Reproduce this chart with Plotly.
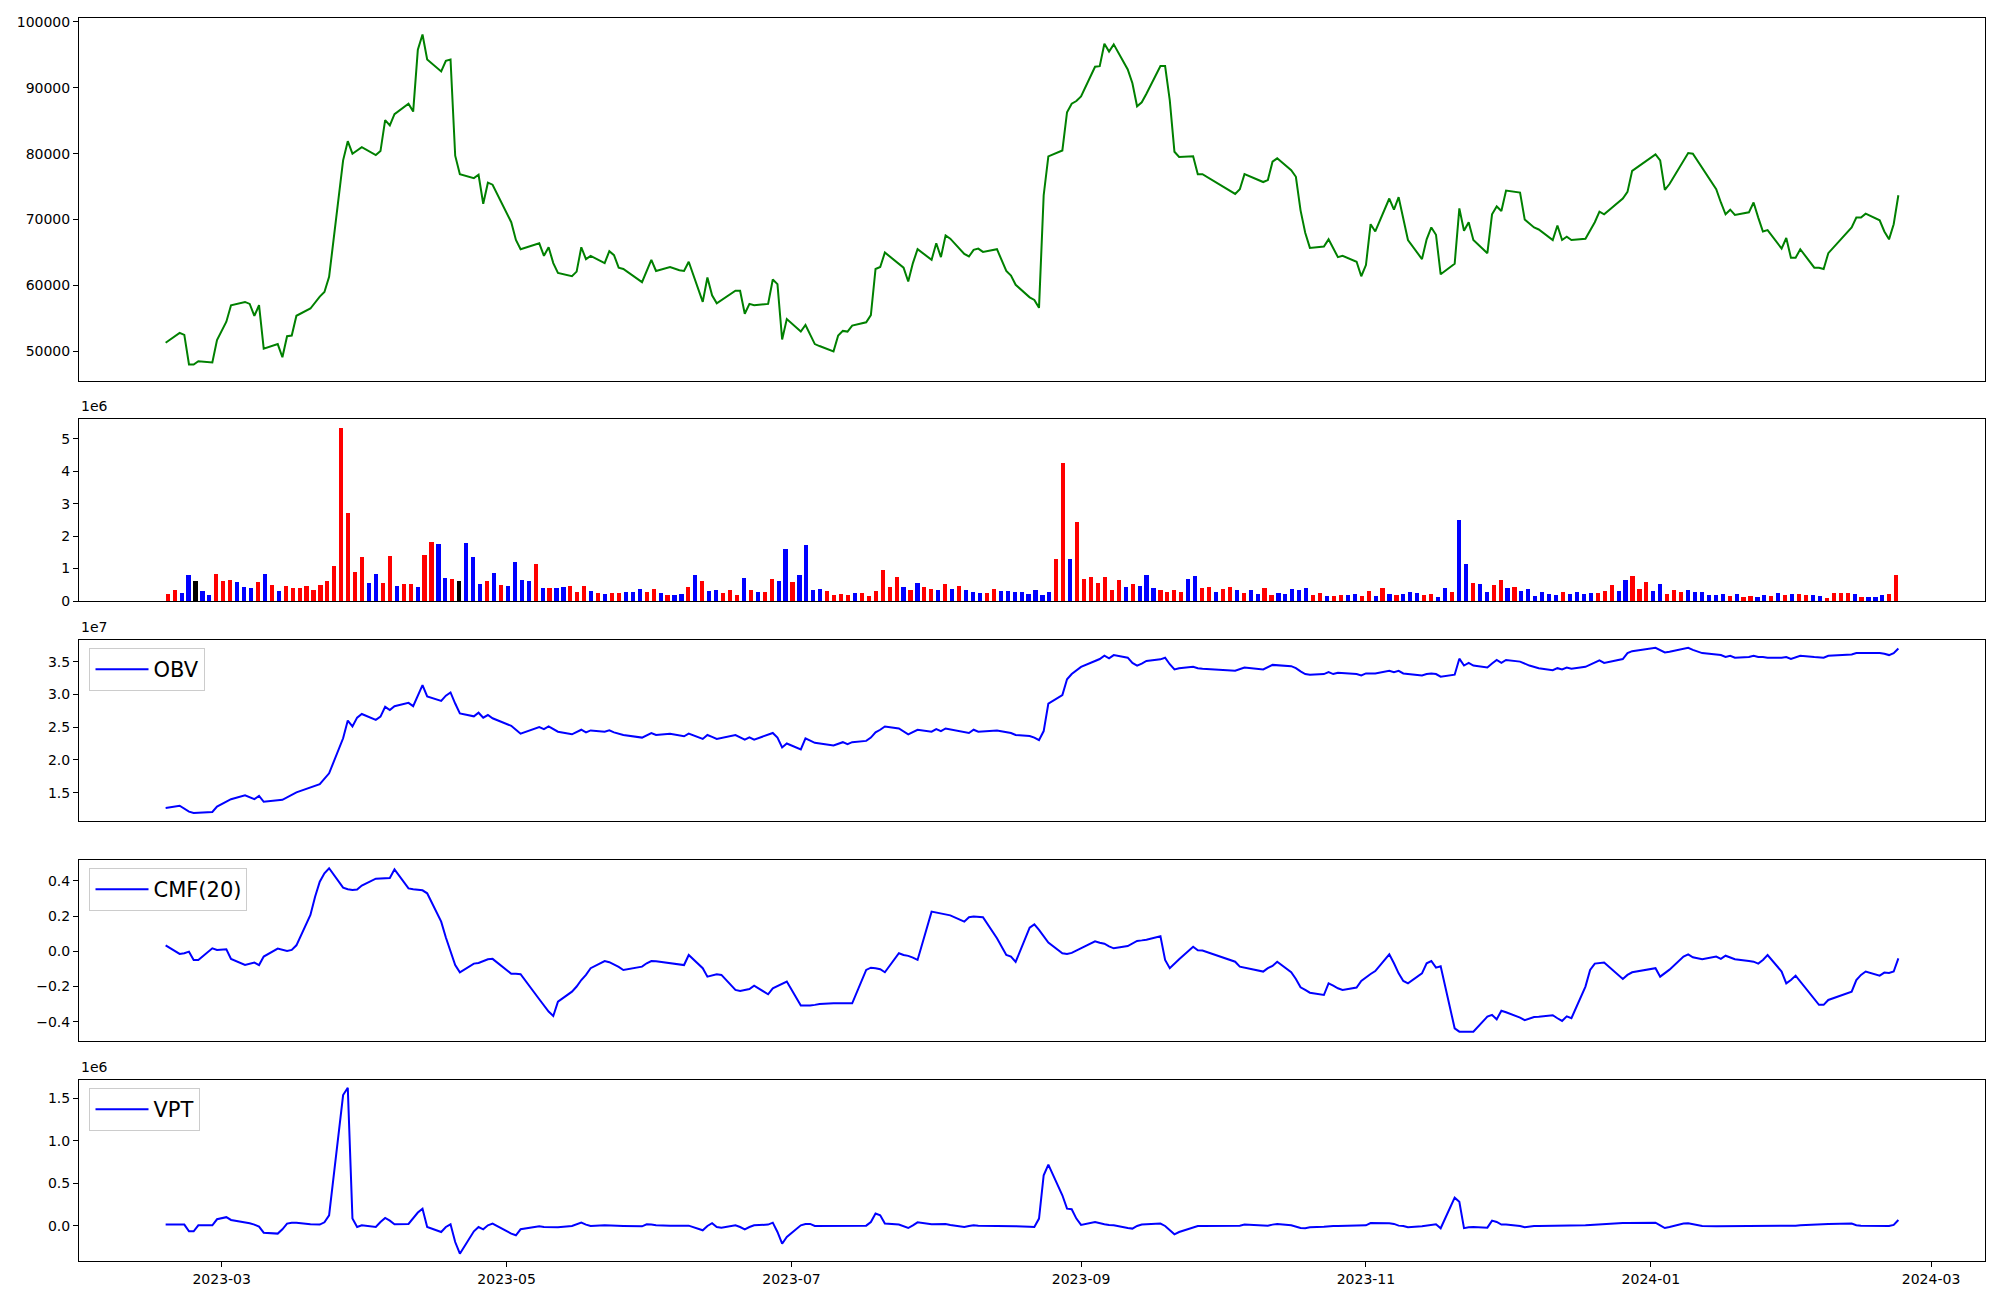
import pandas as pd
import plotly.graph_objects as go

# ---------------- data ----------------
krx_holidays = ["2023-03-01", "2023-05-01", "2023-05-05", "2023-05-29", "2023-06-06",
                "2023-08-15", "2023-09-28", "2023-09-29", "2023-10-02", "2023-10-03",
                "2023-10-09", "2023-12-25", "2023-12-29", "2024-01-01", "2024-02-09",
                "2024-02-12"]
dates = [d for d in pd.bdate_range("2023-02-17", "2024-02-23")
         if d.strftime("%Y-%m-%d") not in krx_holidays]

close_price = [
    51300, 52800, 52500, 48000, 48000, 48500, 48300, 51700, 54500, 57000,
    57500, 57200, 55400, 57000, 50400, 51100, 49100, 52300, 52400, 55400,
    56500, 57400, 58300, 59000, 61300, 79000, 81900, 80000, 80500, 81000,
    79800, 80400, 85100, 84300, 86000, 87600, 86400, 95800, 98100, 94300,
    92500, 94100, 94300, 79700, 76900, 76300, 76800, 72400, 75600, 75300,
    69600, 66900, 65500, 66400, 64500, 65800, 63400, 61900, 61400, 62100,
    65800, 64000, 64500, 63400, 65200, 64600, 62700, 62500, 60500, 62100,
    63900, 62200, 62800, 62300, 62200, 63600, 57500, 61200, 58500, 57300,
    57800, 59200, 59200, 55700, 57200, 57000, 57200, 60900, 60200, 51800,
    54900, 53000, 54000, 52500, 51100, 50800, 50000, 52400, 53100, 53000,
    53900, 54400, 55500, 62500, 62800, 65000, 63300, 62700, 60600, 63400,
    65500, 63900, 66400, 64300, 67600, 67100, 64800, 64400, 65400, 65600,
    65100, 65500, 62200, 61500, 60100, 58200, 57800, 56600, 73700, 79600,
    80500, 86300, 87600, 88000, 88700, 93200, 93300, 96700, 95500, 96600,
    92800, 90700, 87200, 87800, 89100, 93300, 93300, 88100, 80300, 79500,
    79600, 76900, 76900, 73900, 74600, 76900, 75700, 76000, 78800, 79300,
    77500, 76500, 71400, 68000, 65700, 65900, 67000, 65600, 64300, 64500,
    63600, 61400, 63100, 69300, 68200, 73200, 71500, 73400, 70200, 66900,
    64000, 67000, 68800, 67700, 61700, 63300, 71700, 68300, 69600, 66900,
    64900, 70800, 72000, 71300, 74400, 74100, 70000, 69400, 68800, 68500,
    66900, 69100, 66900, 67400, 66900, 67100, 68400, 69600, 71200, 70800,
    73200, 74200, 77400, 79900, 79000, 74500, 75400, 78900, 80100, 80000,
    78900, 77800, 74600, 72600, 70800, 71500, 70700, 71100, 72600, 70300,
    68200, 68400, 65600, 67200, 64200, 64200, 65500, 62700, 62700, 62500,
    64900, 68800, 70300, 70300, 70900, 69900, 68200, 67000, 69300, 73700,
]

# volume in millions of shares
volume_m = [
    0.22, 0.34, 0.25, 0.80, 0.62, 0.31, 0.19, 0.83, 0.62, 0.65,
    0.59, 0.43, 0.40, 0.59, 0.83, 0.49, 0.31, 0.46, 0.40, 0.40,
    0.46, 0.34, 0.49, 0.62, 1.08, 5.34, 2.72, 0.90, 1.36, 0.56,
    0.83, 0.56, 1.39, 0.46, 0.52, 0.52, 0.43, 1.42, 1.82, 1.76,
    0.71, 0.68, 0.62, 1.79, 1.36, 0.52, 0.62, 0.86, 0.49, 0.46,
    1.20, 0.65, 0.62, 1.14, 0.40, 0.40, 0.40, 0.43, 0.46, 0.28,
    0.46, 0.31, 0.25,
    0.22, 0.25, 0.25, 0.28, 0.28, 0.37, 0.28, 0.37, 0.25, 0.19,
    0.19, 0.22, 0.43, 0.80, 0.62, 0.31, 0.34, 0.25, 0.34, 0.19,
    0.71, 0.34, 0.28, 0.28, 0.68, 0.62, 1.60, 0.59, 0.80, 1.73,
    0.34, 0.37, 0.31, 0.19, 0.22, 0.19, 0.25, 0.25, 0.15, 0.31,
    0.96, 0.43, 0.74, 0.43, 0.34, 0.56, 0.43, 0.37, 0.34, 0.52,
    0.37, 0.46, 0.34, 0.28, 0.25, 0.25, 0.37, 0.31, 0.31, 0.28,
    0.28, 0.22, 0.34,
    0.19, 0.28, 1.30, 4.26, 1.30, 2.44, 0.68, 0.74, 0.56, 0.74,
    0.34, 0.65, 0.43, 0.52, 0.46, 0.80, 0.40, 0.34, 0.28, 0.34,
    0.28, 0.68, 0.77, 0.40, 0.43, 0.28, 0.37, 0.43, 0.34, 0.25,
    0.34, 0.22, 0.40, 0.19, 0.25, 0.22, 0.37, 0.34, 0.40, 0.19,
    0.25, 0.15, 0.15, 0.19, 0.19, 0.22, 0.15, 0.31, 0.15, 0.40,
    0.22, 0.19, 0.22, 0.28, 0.25, 0.19, 0.22, 0.12, 0.40, 0.28,
    2.50, 1.14,
    0.56, 0.52, 0.28, 0.49, 0.65, 0.40, 0.43, 0.31, 0.37, 0.15,
    0.28, 0.22, 0.19, 0.28, 0.22, 0.28, 0.22, 0.25, 0.25, 0.31,
    0.49, 0.31, 0.65, 0.77, 0.37, 0.59, 0.31, 0.52, 0.22, 0.34,
    0.28, 0.34, 0.28, 0.28, 0.19, 0.19, 0.22, 0.15, 0.22, 0.12,
    0.15, 0.12, 0.19, 0.15, 0.25, 0.19, 0.22, 0.22, 0.19, 0.19,
    0.15, 0.09, 0.25, 0.25, 0.25, 0.22, 0.12, 0.12, 0.12, 0.19,
    0.22, 0.80,
]

# candle direction per day: r = up, b = down, k = unchanged
candle_dir = ("rrbbkbbrrr" "bbbrbrbrrr" "rrrrrrrrrb" "brrbrrbrrb" "brkbbbrbrb" "bbbrbrbbrr" "rbr"
              "brrbbbrrbr" "bbrbrbbrrr" "brbrrbbrbb" "bbrrrrbrrr" "rrrbrbrrbr" "brbbbrrbbb" "bbb"
              "bbrrbrrrrr" "rrbrbbbrrr" "rbbrrbrrbr" "bbrrbbbbbr" "rbrrbbrrbr" "brbbbrrbbr" "bb"
              "rbbrrbrbbb" "bbbrbbbbrr" "rbbrrrbbrr" "rbbbbbbrbr" "rbbrbrbrrb" "brrrrbrbbb" "rr")

# OBV (x1e7), read at these trading-day indices
obv_idx = [0, 1, 3, 4, 6, 7, 9, 10, 12, 13, 14, 16, 19, 22, 24, 25, 26, 27, 28, 29,
           30, 31, 32, 33, 34, 35, 36, 37, 38, 39, 40, 41, 42, 43, 44, 45, 46, 47, 48, 49,
           50, 51, 52, 53, 54, 55, 57, 58, 60, 61, 62, 63, 64, 65, 67, 68, 70, 71, 72, 74,
           75, 76, 77, 78, 79, 81, 83, 84, 85, 87, 88, 89, 90, 91, 92, 94, 96, 98, 99, 100,
           101, 102, 103, 104, 105, 106, 108, 110, 111, 112, 113, 114, 116, 117, 118, 119, 121, 123, 124, 125,
           126, 127, 128, 129, 130, 131, 132, 133, 134, 135, 136, 137, 138, 139, 140, 141, 142, 143, 144, 145,
           146, 147, 148, 149, 150, 151, 152, 153, 154, 155, 156, 157, 158, 160, 161, 162, 163, 164, 165, 166,
           167, 168, 170, 171, 172, 174, 175, 176, 177, 178, 179, 180, 181, 182, 183, 184, 185, 186, 187, 188,
           189, 190, 191, 192, 193, 194, 195, 196, 197, 199, 200, 201, 202, 203, 204, 205, 206, 207, 208, 209,
           210, 211, 212, 213, 214, 215, 216, 217, 218, 219, 220, 221, 222, 223, 224, 225, 226, 227, 228, 229,
           230, 231, 232, 233, 234, 235, 236, 237, 238, 239, 240, 241, 242, 243, 244, 245, 246, 247, 248, 249]
obv_1e7 = [1.266, 1.30, 1.21, 1.19, 1.205, 1.286, 1.40, 1.46, 1.40, 1.45, 1.36, 1.39, 1.505, 1.63, 1.795, 2.33, 2.60, 2.51, 2.645, 2.70,
           2.61, 2.66, 2.81, 2.76, 2.82, 2.87, 2.82, 2.99, 3.14, 2.97, 2.90, 2.98, 3.03, 2.86, 2.71, 2.665, 2.72, 2.645, 2.685, 2.635,
           2.52, 2.46, 2.40, 2.50, 2.47, 2.51, 2.43, 2.39, 2.46, 2.42, 2.45, 2.43, 2.45, 2.42, 2.38, 2.34, 2.41, 2.38, 2.40, 2.36,
           2.40, 2.32, 2.38, 2.35, 2.32, 2.38, 2.31, 2.345, 2.31, 2.41, 2.34, 2.19, 2.25, 2.16, 2.33, 2.26, 2.22, 2.27, 2.24, 2.27,
           2.29, 2.34, 2.42, 2.46, 2.51, 2.48, 2.39, 2.46, 2.43, 2.47, 2.44, 2.48, 2.43, 2.41, 2.46, 2.43, 2.45, 2.41, 2.38, 2.365,
           2.34, 2.30, 2.44, 2.86, 2.99, 3.23, 3.31, 3.37, 3.42, 3.51, 3.54, 3.59, 3.55, 3.60, 3.56, 3.48, 3.44, 3.47, 3.51, 3.535,
           3.56, 3.46, 3.38, 3.40, 3.42, 3.40, 3.39, 3.36, 3.38, 3.41, 3.38, 3.41, 3.45, 3.43, 3.40, 3.35, 3.31, 3.30, 3.31, 3.34,
           3.31, 3.33, 3.31, 3.29, 3.32, 3.32, 3.36, 3.34, 3.36, 3.32, 3.31, 3.29, 3.31, 3.32, 3.31, 3.27, 3.30, 3.545, 3.44, 3.48,
           3.44, 3.41, 3.47, 3.525, 3.48, 3.525, 3.50, 3.47, 3.44, 3.40, 3.37, 3.40, 3.38, 3.41, 3.39, 3.42, 3.45, 3.48, 3.52, 3.48,
           3.54, 3.63, 3.66, 3.71, 3.68, 3.64, 3.65, 3.69, 3.71, 3.68, 3.65, 3.63, 3.61, 3.60, 3.57, 3.59, 3.56, 3.57, 3.59, 3.57,
           3.57, 3.56, 3.56, 3.57, 3.54, 3.56, 3.59, 3.57, 3.56, 3.56, 3.59, 3.61, 3.63, 3.63, 3.64, 3.63, 3.62, 3.60, 3.63, 3.70]

cmf_20 = [
    0.034, -0.015, -0.011, -0.002, -0.049, -0.049, 0.017, 0.008, 0.011, -0.043,
    -0.078, -0.072, -0.064, -0.078, -0.03, 0.015, 0.008, 0.002, 0.008, 0.034,
    0.206, 0.31, 0.395, 0.443, 0.471, 0.361, 0.352, 0.348, 0.35, 0.373,
    0.412, 0.414, 0.414, 0.416, 0.465, 0.357, 0.352, 0.35, 0.346, 0.329,
    0.168, 0.078, -0.002, -0.078, -0.119, -0.07, -0.066, -0.055, -0.045, -0.043,
    -0.127, -0.127, -0.13, -0.272, -0.304, -0.342, -0.367, -0.286, -0.229, -0.2,
    -0.163, -0.134, -0.096, -0.055, -0.062, -0.074, -0.089, -0.106, -0.087, -0.068,
    -0.055, -0.057, -0.068, -0.076, -0.078, -0.021, -0.096, -0.144, -0.138, -0.13,
    -0.134, -0.219, -0.225, -0.219, -0.214, -0.195, -0.244, -0.21, -0.197, -0.182,
    -0.172, -0.308, -0.31, -0.308, -0.304, -0.299, -0.295, -0.295, -0.297, -0.297,
    -0.295, -0.106, -0.093, -0.096, -0.102, -0.119, -0.011, -0.021, -0.026, -0.036,
    -0.049, 0.225, 0.219, 0.214, 0.21, 0.204, 0.168, 0.193, 0.197, 0.195,
    0.193, 0.074, -0.021, -0.03, -0.06, 0.134, 0.153, 0.121, 0.083, 0.049,
    -0.011, -0.015, -0.009, 0.004, 0.017, 0.057, 0.049, 0.043, 0.028, 0.017,
    0.03, 0.045, 0.059, 0.062, 0.066, 0.085, -0.049, -0.096, -0.07, -0.045,
    0.026, 0.006, 0.004, -0.059, -0.087, -0.093, -0.115, -0.096, -0.083, -0.059,
    -0.119, -0.157, -0.204, -0.219, -0.235, -0.248, -0.182, -0.195, -0.21, -0.219,
    -0.206, -0.168, -0.146, -0.129, -0.112, -0.017, -0.068, -0.125, -0.168, -0.182,
    -0.125, -0.068, -0.055, -0.093, -0.085, -0.437, -0.456, -0.456, -0.452, -0.456,
    -0.371, -0.361, -0.386, -0.337, -0.346, -0.376, -0.391, -0.38, -0.373, -0.371,
    -0.363, -0.38, -0.395, -0.369, -0.38, -0.2, -0.106, -0.07, -0.066, -0.064,
    -0.157, -0.134, -0.119, -0.096, -0.144, -0.125, -0.104, -0.03, -0.017, -0.034,
    -0.04, -0.045, -0.03, -0.043, -0.025, -0.036, -0.045, -0.055, -0.059, -0.07,
    -0.049, -0.021, -0.115, -0.182, -0.163, -0.138, -0.172, -0.276, -0.304, -0.304,
    -0.276, -0.229, -0.163, -0.134, -0.115, -0.138, -0.121, -0.123, -0.115, -0.04,
]

# VPT (x1e6)
vpt_1e6 = [
    0.012, 0.012, 0.012, -0.067, -0.067, 0.004, 0.004, 0.075, 0.10, 0.067,
    0.043, 0.028, 0.012, -0.012, -0.083, -0.094, -0.043, 0.024, 0.035, 0.035,
    0.016, 0.012, 0.012, 0.039, 0.122, 1.54, 1.626, 0.083, -0.016, 0.004,
    -0.016, 0.043, 0.09, 0.059, 0.016, 0.02, 0.083, 0.154, 0.20, -0.016,
    -0.075, -0.016, 0.016, -0.193, -0.331, -0.067, -0.016, -0.043, 0.004, 0.024,
    -0.094, -0.114, -0.043, -0.008, -0.016, -0.02, -0.024, -0.02, -0.004, 0.012,
    0.035, 0.012, -0.004, 0.004, 0.004, 0.0, -0.004, -0.004, -0.008, 0.016,
    0.012, 0.004, 0.0, 0.0, 0.0, 0.0, -0.055, -0.004, 0.028, -0.016,
    -0.024, 0.004, -0.016, -0.043, -0.016, 0.004, 0.012, 0.035, -0.075, -0.213,
    -0.134, 0.004, 0.02, 0.02, -0.004, -0.004, 0.0, 0.0, 0.0, 0.0,
    0.0, 0.0, 0.043, 0.142, 0.122, 0.024, 0.012, -0.004, -0.028, 0.004,
    0.039, 0.016, 0.016, 0.02, 0.02, 0.008, -0.016, -0.004, 0.004, 0.0,
    0.0, 0.0, -0.004, -0.004, -0.008, -0.012, -0.016, 0.083, 0.594, 0.72,
    0.358, 0.20, 0.193, 0.083, 0.008, 0.043, 0.028, 0.016, 0.008, 0.004,
    -0.028, -0.035, -0.004, 0.012, 0.016, 0.024, -0.004, -0.055, -0.102, -0.075,
    -0.016, -0.004, -0.004, -0.008, 0.0, 0.012, 0.0, 0.0, 0.012, 0.02,
    0.004, -0.008, -0.028, -0.031, -0.02, -0.012, -0.004, -0.004, -0.004, -0.004,
    -0.004, -0.004, 0.004, 0.031, 0.031, 0.028, 0.02, 0.0, -0.004, -0.02,
    -0.008, 0.0, 0.012, 0.016, -0.031, 0.33, 0.28, -0.03, -0.02, -0.016,
    -0.024, 0.059, 0.043, 0.012, 0.012, -0.004, -0.02, -0.008, -0.004, -0.004,
    -0.004, -0.004, -0.004, -0.004, -0.004, 0.004, 0.008, 0.012, 0.016, 0.02,
    0.031, 0.031, 0.031, 0.035, 0.004, -0.028, -0.016, 0.024, 0.028, 0.016,
    0.004, -0.004, -0.008, -0.008, -0.004, -0.004, 0.0, -0.004, 0.0, 0.0,
    -0.004, -0.004, -0.004, 0.0, -0.004, 0.0, 0.004, 0.012, 0.016, 0.02,
    0.02, 0.024, 0.004, 0.0, 0.0, -0.004, -0.004, -0.004, 0.008, 0.067,
]

# ---------------- figure ----------------
FONT = "DejaVu Sans"
n_days = min(len(dates), len(close_price))
line_dates = dates[:n_days]
n_bars = min(len(volume_m), len(candle_dir))
dir_color = {"r": "#ff0000", "b": "#0000ff", "k": "#000000"}
bar_colors = [dir_color[c] for c in candle_dir[:n_bars]]

span = line_dates[-1] - line_dates[0]
x_range = [line_dates[0] - span * 0.05, line_dates[-1] + span * 0.05]
bw = 0.6
bar_span = (n_bars - 1) + bw
bar_range = [-bw / 2 - 0.05 * bar_span, (n_bars - 1) + bw / 2 + 0.05 * bar_span]

fig = go.Figure()
fig.add_trace(go.Scatter(x=line_dates, y=close_price[:n_days], mode="lines",
                         line=dict(color="green", width=2), showlegend=False,
                         xaxis="x", yaxis="y"))
fig.add_trace(go.Bar(x=list(range(n_bars)), y=volume_m[:n_bars], width=bw,
                     marker=dict(color=bar_colors, line=dict(width=0)),
                     showlegend=False, xaxis="x2", yaxis="y2"))
fig.add_trace(go.Scatter(x=[dates[i] for i in obv_idx], y=obv_1e7, mode="lines", name="OBV",
                         line=dict(color="blue", width=2), legend="legend",
                         xaxis="x3", yaxis="y3"))
fig.add_trace(go.Scatter(x=dates[:len(cmf_20)], y=cmf_20, mode="lines", name="CMF(20)",
                         line=dict(color="blue", width=2), legend="legend2",
                         xaxis="x4", yaxis="y4"))
fig.add_trace(go.Scatter(x=dates[:len(vpt_1e6)], y=vpt_1e6, mode="lines", name="VPT",
                         line=dict(color="blue", width=2), legend="legend3",
                         xaxis="x5", yaxis="y5"))

frame = dict(showline=True, mirror=True, linecolor="black", linewidth=1,
             showgrid=False, zeroline=False, automargin=False)
yax = dict(frame, ticks="outside", ticklen=5, tickwidth=1, tickcolor="black",
           tickfont=dict(family=FONT, size=14, color="black"))
xhidden = dict(frame, showticklabels=False, ticks="")

# the page body adds an 8 px offset; place plot areas at absolute pixel positions
OFF = 8
FIG_W, FIG_H = 2000 - OFF, 1300 - OFF
PLOT_L, PLOT_R, PLOT_T, PLOT_B = 78.5, 1985, 18, 1261
M_L = PLOT_L - OFF
M_R = FIG_W - (PLOT_R - OFF)
M_T = PLOT_T - OFF
M_B = FIG_H - (PLOT_B - OFF)
PLOT_H = PLOT_B - PLOT_T


def dom(top_px, bottom_px):
    return [(PLOT_B - bottom_px) / PLOT_H, (PLOT_B - top_px) / PLOT_H]


d_price = dom(18, 381)
d_vol = dom(419, 601)
d_obv = dom(640, 821)
d_cmf = dom(860, 1041)
d_vpt = dom(1080, 1261)

pmin, pmax = min(close_price), max(close_price)
pm = (pmax - pmin) * 0.05

legend_style = dict(xref="paper", yref="paper", xanchor="left", yanchor="top",
                    bgcolor="rgba(255,255,255,0.8)", bordercolor="#cccccc", borderwidth=1,
                    font=dict(family=FONT, size=21, color="black"), itemwidth=53)
lx = 10.5 / (PLOT_R - PLOT_L)

fig.update_layout(
    width=FIG_W, height=FIG_H,
    margin=dict(l=M_L, r=M_R, t=M_T, b=M_B, autoexpand=False),
    paper_bgcolor="white", plot_bgcolor="white",
    font=dict(family=FONT, size=14, color="black"),
    bargap=0,
    xaxis=dict(xhidden, type="date", range=x_range, anchor="y"),
    yaxis=dict(yax, domain=d_price, range=[pmin - pm, pmax + pm], tickformat="d",
               tickvals=[50000, 60000, 70000, 80000, 90000, 100000], anchor="x"),
    xaxis2=dict(xhidden, range=bar_range, anchor="y2"),
    yaxis2=dict(yax, domain=d_vol, range=[0, max(volume_m) * 1.05],
                tickvals=[0, 1, 2, 3, 4, 5], tickformat="d", anchor="x2"),
    xaxis3=dict(xhidden, type="date", range=x_range, anchor="y3"),
    yaxis3=dict(yax, domain=d_obv, range=[1.067, 3.83],
                tickvals=[1.5, 2.0, 2.5, 3.0, 3.5], tickformat=".1f", anchor="x3"),
    xaxis4=dict(xhidden, type="date", range=x_range, anchor="y4"),
    yaxis4=dict(yax, domain=d_cmf, range=[-0.509, 0.518],
                tickvals=[-0.4, -0.2, 0.0, 0.2, 0.4],
                ticktext=["\u22120.4", "\u22120.2", "0.0", "0.2", "0.4"], anchor="x4"),
    xaxis5=dict(frame, type="date", range=x_range, anchor="y5",
                ticks="outside", ticklen=5, tickwidth=1, tickcolor="black",
                tick0="2023-03-01", dtick="M2", tickformat="%Y-%m",
                tickfont=dict(family=FONT, size=14, color="black")),
    yaxis5=dict(yax, domain=d_vpt, range=[-0.417, 1.717],
                tickvals=[0.0, 0.5, 1.0, 1.5], tickformat=".1f", anchor="x5"),
    legend=dict(legend_style, x=lx, y=d_obv[1] - 8 / PLOT_H),
    legend2=dict(legend_style, x=lx, y=d_cmf[1] - 8 / PLOT_H),
    legend3=dict(legend_style, x=lx, y=d_vpt[1] - 8 / PLOT_H),
)

for ytop, txt in [(d_vol[1], "1e6"), (d_obv[1], "1e7"), (d_vpt[1], "1e6")]:
    fig.add_annotation(text=txt, xref="paper", yref="paper", x=0, y=ytop + 3 / PLOT_H,
                       xanchor="left", yanchor="bottom", showarrow=False,
                       font=dict(family=FONT, size=14, color="black"))

fig.write_html("out.html")
